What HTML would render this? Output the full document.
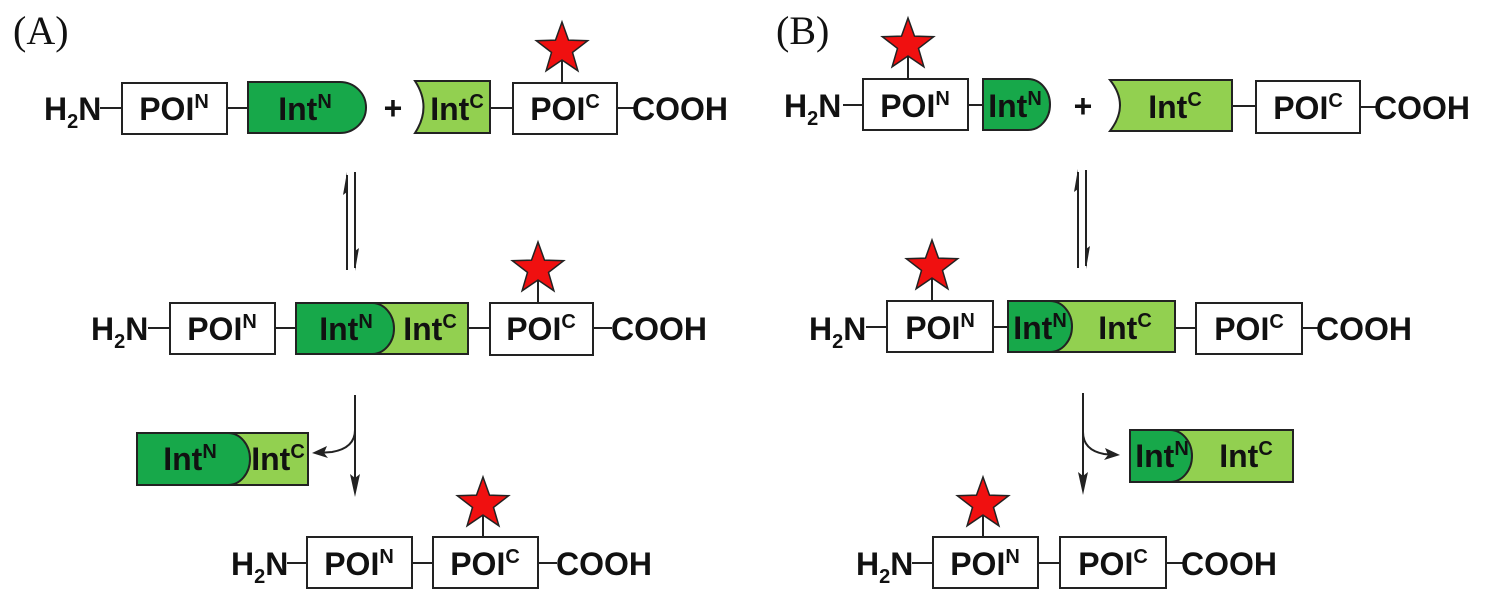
<!DOCTYPE html>
<html><head><meta charset="utf-8"><style>
html,body{margin:0;padding:0;background:#fff;}
svg{display:block;}
.t{font-family:"Liberation Sans",Arial,sans-serif;font-weight:bold;font-size:32px;fill:#111;}
.s{font-size:20px;}
.lab{font-family:"Liberation Serif",serif;font-size:40px;fill:#111;}
.b{fill:#fff;stroke:#222;stroke-width:2;}
.d{fill:#17a84a;stroke:#222;stroke-width:2;}
.l{fill:#92d050;stroke:#222;stroke-width:2;}
.ln{stroke:#222;stroke-width:2;fill:none;}
</style></head><body>
<svg width="1496" height="600" viewBox="0 0 1496 600" xmlns="http://www.w3.org/2000/svg">
<defs>
<polygon id="st" points="0,-27 6.5,-8.9 25.7,-8.3 10.5,3.4 15.9,21.8 0,11 -15.9,21.8 -10.5,3.4 -25.7,-8.3 -6.5,-8.9" fill="#f01010" stroke="#222" stroke-width="1.5"/>
</defs>
<text class="lab" x="13" y="44">(A)</text>
<text class="lab" x="776" y="44">(B)</text>

<!-- A row 1 -->
<text class="t" x="44" y="120">H<tspan class="s" dy="8">2</tspan><tspan dy="-8">N</tspan></text>
<line class="ln" x1="100" y1="108" x2="122" y2="108"/>
<rect class="b" x="122" y="83" width="105" height="51"/>
<text class="t" x="174" y="120" text-anchor="middle">POI<tspan class="s" dy="-12">N</tspan></text>
<line class="ln" x1="227" y1="108" x2="248" y2="108"/>
<path class="d" d="M248,82 H340 A26,25.5 0 0 1 340,133 H248 Z"/>
<text class="t" x="305" y="120" text-anchor="middle">Int<tspan class="s" dy="-12">N</tspan></text>
<text class="t" x="393" y="119" text-anchor="middle">+</text>
<path class="l" d="M415,81 H490 V133 H415 Q432,107 415,81 Z"/>
<text class="t" x="457" y="120" text-anchor="middle">Int<tspan class="s" dy="-12">C</tspan></text>
<line class="ln" x1="490" y1="108" x2="513" y2="108"/>
<rect class="b" x="513" y="83" width="104" height="51"/>
<text class="t" x="565" y="120" text-anchor="middle">POI<tspan class="s" dy="-12">C</tspan></text>
<line class="ln" x1="562" y1="60" x2="562" y2="83"/>
<use href="#st" x="562" y="49"/>
<line class="ln" x1="617" y1="108" x2="634" y2="108"/>
<text class="t" x="632" y="120">COOH</text>

<!-- A equilibrium -->
<line class="ln" x1="347" y1="175" x2="347" y2="270"/>
<path d="M347,172 L343,195 L347,192 Z" fill="#222"/>
<line class="ln" x1="355" y1="172" x2="355" y2="268"/>
<path d="M355,271 L359,248 L355,251 Z" fill="#222"/>

<!-- A row 2 -->
<text class="t" x="91" y="340">H<tspan class="s" dy="8">2</tspan><tspan dy="-8">N</tspan></text>
<line class="ln" x1="148" y1="328" x2="170" y2="328"/>
<rect class="b" x="170" y="303" width="105" height="51"/>
<text class="t" x="222" y="340" text-anchor="middle">POI<tspan class="s" dy="-12">N</tspan></text>
<line class="ln" x1="275" y1="328" x2="296" y2="328"/>
<rect class="l" x="296" y="303" width="172" height="51"/>
<path class="d" d="M296,303 H372 A22,25.5 0 0 1 372,354 H296 Z"/>
<text class="t" x="346" y="340" text-anchor="middle">Int<tspan class="s" dy="-12">N</tspan></text>
<text class="t" x="430" y="340" text-anchor="middle">Int<tspan class="s" dy="-12">C</tspan></text>
<line class="ln" x1="468" y1="328" x2="490" y2="328"/>
<rect class="b" x="490" y="303" width="103" height="52"/>
<text class="t" x="541" y="340" text-anchor="middle">POI<tspan class="s" dy="-12">C</tspan></text>
<line class="ln" x1="538" y1="280" x2="538" y2="303"/>
<use href="#st" x="538" y="269"/>
<line class="ln" x1="593" y1="328" x2="612" y2="328"/>
<text class="t" x="611" y="340">COOH</text>

<!-- A arrow 2 -->
<line class="ln" x1="355" y1="395" x2="355" y2="480"/>
<path d="M355,497 L350,474 L355,478 L360,474 Z" fill="#222"/>
<path class="ln" d="M355,430 Q355,448 332,452 L318,453"/>
<path d="M312,453 L327,446 L324,453 L328,458 Z" fill="#222"/>
<rect class="l" x="137" y="433" width="171" height="52"/>
<path class="d" d="M137,433 H228 A22,26 0 0 1 228,485 H137 Z"/>
<text class="t" x="190" y="470" text-anchor="middle">Int<tspan class="s" dy="-12">N</tspan></text>
<text class="t" x="278" y="470" text-anchor="middle">Int<tspan class="s" dy="-12">C</tspan></text>

<!-- A row 3 -->
<text class="t" x="231" y="575">H<tspan class="s" dy="8">2</tspan><tspan dy="-8">N</tspan></text>
<line class="ln" x1="287" y1="563" x2="307" y2="563"/>
<rect class="b" x="307" y="537" width="105" height="51"/>
<text class="t" x="359" y="575" text-anchor="middle">POI<tspan class="s" dy="-12">N</tspan></text>
<line class="ln" x1="412" y1="563" x2="433" y2="563"/>
<rect class="b" x="433" y="537" width="105" height="51"/>
<text class="t" x="485" y="575" text-anchor="middle">POI<tspan class="s" dy="-12">C</tspan></text>
<line class="ln" x1="483" y1="515" x2="483" y2="537"/>
<use href="#st" x="483" y="504"/>
<line class="ln" x1="538" y1="563" x2="557" y2="563"/>
<text class="t" x="556" y="575">COOH</text>

<!-- B row 1 -->
<text class="t" x="784" y="117">H<tspan class="s" dy="8">2</tspan><tspan dy="-8">N</tspan></text>
<line class="ln" x1="843" y1="105" x2="863" y2="105"/>
<rect class="b" x="863" y="79" width="105" height="51"/>
<text class="t" x="915" y="117" text-anchor="middle">POI<tspan class="s" dy="-12">N</tspan></text>
<line class="ln" x1="908" y1="56" x2="908" y2="79"/>
<use href="#st" x="908" y="45"/>
<line class="ln" x1="968" y1="105" x2="983" y2="105"/>
<path class="d" d="M983,79 H1028 A22,25.5 0 0 1 1028,130 H983 Z"/>
<text class="t" x="1015" y="117" text-anchor="middle">Int<tspan class="s" dy="-12">N</tspan></text>
<text class="t" x="1083" y="117" text-anchor="middle">+</text>
<path class="l" d="M1110,80 H1232 V131 H1110 Q1130,105 1110,80 Z"/>
<text class="t" x="1175" y="118" text-anchor="middle">Int<tspan class="s" dy="-12">C</tspan></text>
<line class="ln" x1="1232" y1="106" x2="1256" y2="106"/>
<rect class="b" x="1256" y="81" width="104" height="52"/>
<text class="t" x="1308" y="119" text-anchor="middle">POI<tspan class="s" dy="-12">C</tspan></text>
<line class="ln" x1="1360" y1="107" x2="1376" y2="107"/>
<text class="t" x="1374" y="119">COOH</text>

<!-- B equilibrium -->
<line class="ln" x1="1078" y1="172" x2="1078" y2="268"/>
<path d="M1078,169 L1074,192 L1078,189 Z" fill="#222"/>
<line class="ln" x1="1086" y1="170" x2="1086" y2="266"/>
<path d="M1086,269 L1090,246 L1086,249 Z" fill="#222"/>

<!-- B row 2 -->
<text class="t" x="809" y="340">H<tspan class="s" dy="8">2</tspan><tspan dy="-8">N</tspan></text>
<line class="ln" x1="866" y1="327" x2="887" y2="327"/>
<rect class="b" x="887" y="301" width="106" height="51"/>
<text class="t" x="940" y="339" text-anchor="middle">POI<tspan class="s" dy="-12">N</tspan></text>
<line class="ln" x1="932" y1="278" x2="932" y2="301"/>
<use href="#st" x="932" y="267"/>
<line class="ln" x1="993" y1="327" x2="1008" y2="327"/>
<rect class="l" x="1008" y="301" width="167" height="51"/>
<path class="d" d="M1008,301 H1050 A22,25.5 0 0 1 1050,352 H1008 Z"/>
<text class="t" x="1040" y="339" text-anchor="middle">Int<tspan class="s" dy="-12">N</tspan></text>
<text class="t" x="1125" y="339" text-anchor="middle">Int<tspan class="s" dy="-12">C</tspan></text>
<line class="ln" x1="1175" y1="328" x2="1196" y2="328"/>
<rect class="b" x="1196" y="303" width="106" height="51"/>
<text class="t" x="1249" y="340" text-anchor="middle">POI<tspan class="s" dy="-12">C</tspan></text>
<line class="ln" x1="1302" y1="328" x2="1318" y2="328"/>
<text class="t" x="1316" y="340">COOH</text>

<!-- B arrow 2 -->
<line class="ln" x1="1083" y1="393" x2="1083" y2="478"/>
<path d="M1083,495 L1078,472 L1083,476 L1088,472 Z" fill="#222"/>
<path class="ln" d="M1083,432 Q1083,450 1104,454 L1114,455"/>
<path d="M1120,455 L1105,448 L1108,455 L1104,460 Z" fill="#222"/>
<rect class="l" x="1130" y="430" width="163" height="52"/>
<path class="d" d="M1130,430 H1170 A22,26 0 0 1 1170,482 H1130 Z"/>
<text class="t" x="1162" y="467" text-anchor="middle">Int<tspan class="s" dy="-12">N</tspan></text>
<text class="t" x="1246" y="467" text-anchor="middle">Int<tspan class="s" dy="-12">C</tspan></text>

<!-- B row 3 -->
<text class="t" x="856" y="575">H<tspan class="s" dy="8">2</tspan><tspan dy="-8">N</tspan></text>
<line class="ln" x1="912" y1="563" x2="933" y2="563"/>
<rect class="b" x="933" y="537" width="105" height="51"/>
<text class="t" x="985" y="575" text-anchor="middle">POI<tspan class="s" dy="-12">N</tspan></text>
<line class="ln" x1="983" y1="515" x2="983" y2="537"/>
<use href="#st" x="983" y="504"/>
<line class="ln" x1="1038" y1="563" x2="1060" y2="563"/>
<rect class="b" x="1060" y="537" width="106" height="51"/>
<text class="t" x="1113" y="575" text-anchor="middle">POI<tspan class="s" dy="-12">C</tspan></text>
<line class="ln" x1="1166" y1="563" x2="1183" y2="563"/>
<text class="t" x="1181" y="575">COOH</text>
</svg>
</body></html>
